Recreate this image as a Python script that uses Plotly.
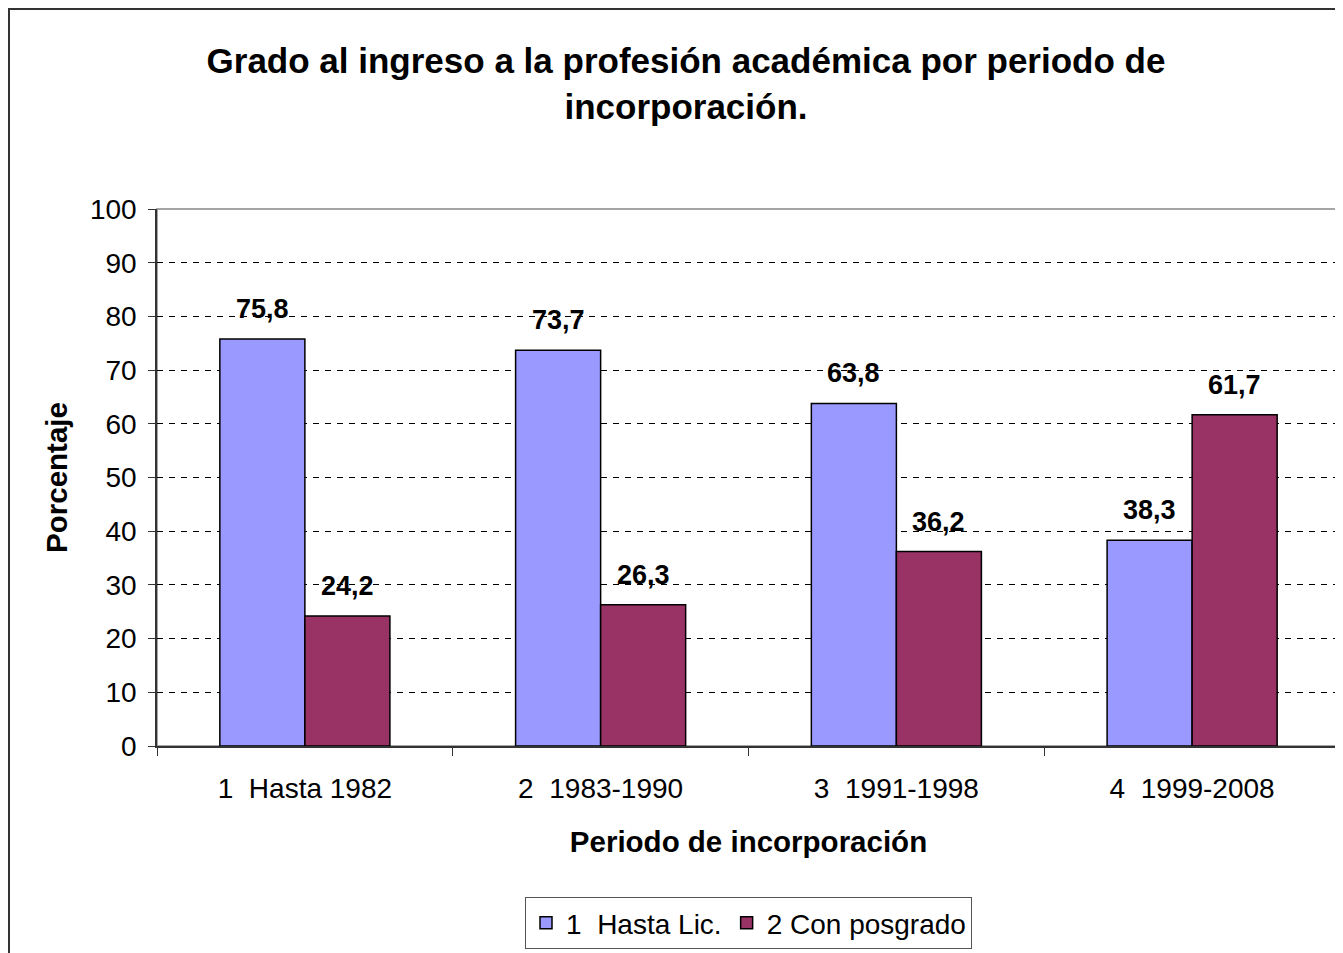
import plotly.graph_objects as go

# data
periodos = ["1  Hasta 1982", "2  1983-1990", "3  1991-1998", "4  1999-2008"]
hasta_lic = [75.8, 73.7, 63.8, 38.3]
con_posgrado = [24.2, 26.3, 36.2, 61.7]
series_names = ["1  Hasta Lic.", "2 Con posgrado"]
series_colors = ["#9999FF", "#993366"]

# page body adds an 8px offset, so the figure is a bit smaller than the window
W, H = 1335, 945
FONT = "Liberation Sans, Arial, sans-serif"

fig = go.Figure()
for name, vals, col in zip(series_names, [hasta_lic, con_posgrado], series_colors):
    fig.add_trace(go.Bar(x=periodos, y=vals, name=name,
                         marker=dict(color=col, line=dict(color="black", width=1.5))))

# value labels above bars (bar half-width derived from layout gaps)
l, r, t, b = 149, 3, 201, 207
pw, ph = W - l - r, H - t - b
bargap = 0.425
cat_w = pw / len(periodos)
half = cat_w * (1 - bargap) / 4
for shift, vals in zip([-half, half], [hasta_lic, con_posgrado]):
    for p, v in zip(periodos, vals):
        fig.add_annotation(x=p, y=v, text="<b>" + f"{v:.1f}".replace(".", ",") + "</b>",
                           showarrow=False, xshift=shift, yshift=30, yanchor="middle",
                           font=dict(size=27, color="black", family=FONT))

# outer chart frame and plot-area frame
fig.add_shape(type="rect", xref="paper", yref="paper",
              x0=(1 - l) / pw, x1=1.05, y0=-0.6, y1=(H - b - 1) / ph,
              line=dict(color="#333333", width=2), layer="below")
fig.add_shape(type="rect", xref="paper", yref="paper", x0=0, x1=1, y0=0, y1=1,
              line=dict(color="#888888", width=1.5), layer="below")

fig.update_layout(
    width=W, height=H,
    margin=dict(l=l, r=r, t=t, b=b),
    paper_bgcolor="white", plot_bgcolor="white",
    font=dict(family=FONT, color="black", size=28),
    barmode="group", bargap=bargap, bargroupgap=0,
    title=dict(text="<b>Grado al ingreso a la profesión académica por periodo de<br>incorporación.</b>",
               x=678 / W, xanchor="center", y=1 - 65 / H, yanchor="middle",
               font=dict(size=35, family=FONT)),
    legend=dict(orientation="h", x=0.5, xanchor="center", y=(H - b - 915) / ph,
                yanchor="middle", bordercolor="#555555", borderwidth=1,
                font=dict(size=28), itemwidth=30, traceorder="normal"),
    showlegend=True,
)
fig.update_yaxes(range=[0, 100], dtick=10, showline=True, linecolor="#333333", linewidth=1.5,
                 ticks="outside", ticklen=7, tickcolor="#333333", ticklabelstandoff=6,
                 showgrid=True, gridcolor="black", gridwidth=1, griddash="6px,6px",
                 zeroline=False, tickfont=dict(size=28),
                 title=dict(text="<b>Porcentaje</b>", font=dict(size=29.5), standoff=14))
fig.update_xaxes(showline=True, linecolor="#333333", linewidth=1.5,
                 ticks="outside", ticklen=8, tickcolor="#333333", tickson="boundaries",
                 ticklabelstandoff=17, tickfont=dict(size=28),
                 title=dict(text="<b>Periodo de incorporación</b>", font=dict(size=29.5), standoff=28))

fig.write_html("out.html")
